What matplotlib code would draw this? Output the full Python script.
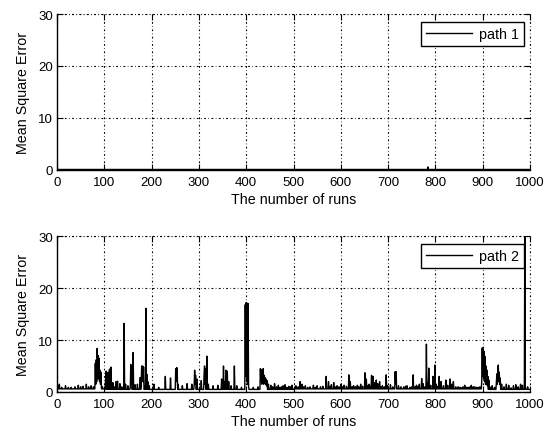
import numpy as np
import matplotlib
matplotlib.use("Agg")
import matplotlib.pyplot as plt

plt.rcParams['font.family'] = ['Liberation Sans', 'DejaVu Sans']

# ---------------- data ----------------
n_runs = 1000
x_ticks = [0, 100, 200, 300, 400, 500, 600, 700, 800, 900, 1000]
y_ticks = [0, 10, 20, 30]

# path 1: flat, near zero, one tiny bump
path1_block_levels = [0.1] * 20            # level per 50-run block
path1_spikes_runs = [784]
path1_spikes_vals = [0.6]

# path 2: low baseline with many spikes
path2_block_levels = [0.6, 0.6, 0.5, 0.5, 0.5, 0.5, 0.5, 0.5, 0.5, 0.5,
                      0.6, 0.6, 0.6, 0.6, 0.6, 0.6, 0.6, 0.6, 0.5, 0.5]
path2_spikes_runs = [
    3, 5, 10, 18, 24, 30, 38, 45, 50, 55, 62, 67, 72, 77,
    81, 82, 83, 84, 85, 86, 87, 88, 89, 90, 91, 92, 93, 96,
    103, 104, 106, 108, 110, 111, 113, 114, 118, 122, 125, 128, 133, 137,
    142, 145, 150, 155, 156, 157, 158, 160, 161, 165, 170, 175, 176, 178, 179, 180,
    181, 182, 183, 186, 188, 190, 192, 195,
    205, 215, 229, 240, 251, 252, 253, 254, 256, 265, 275, 285, 290, 291, 292, 293,
    296, 305, 311, 312, 313, 314, 316, 317, 320, 330, 340, 348, 352, 355, 357, 359,
    360, 363, 368, 375, 380, 390,
    398, 399, 400, 401, 402, 403, 404, 405,
    415, 425, 430, 431, 432, 433, 434, 435, 436, 437, 438, 439, 440, 441, 442, 443,
    444, 447, 452, 456, 460, 464, 468, 472, 475, 478, 482, 486, 490, 494, 497,
    505, 510, 514, 518, 521, 525, 530, 535, 542, 546, 550, 557, 562, 569, 574, 577,
    580, 585, 588, 592, 596, 600, 604, 607, 612, 617, 620, 624, 627, 631, 635, 638,
    642, 646, 651, 654, 657, 660, 663, 665, 668, 671, 675, 678, 682, 685, 688, 692,
    696, 699, 705, 710, 715, 716, 717, 722, 727, 733, 737, 740, 746, 750, 753, 757,
    760, 763, 766, 771, 774, 778, 781, 783, 786, 790, 795, 799, 802, 805, 808, 812,
    817, 822, 826, 831, 834, 838, 843, 848, 852, 855, 858, 862, 866, 869, 873, 876,
    880, 883, 887, 890, 894,
    898, 899, 900, 901, 902, 903, 904, 905, 906, 907, 908, 909, 910, 911, 913, 915,
    920, 925, 929, 930, 931, 932, 933, 934, 935, 936, 937, 940, 945, 950, 955, 960,
    965, 970, 975, 980, 984, 989, 990, 995]
path2_spikes_vals = [
    1.2, 1.5, 0.9, 1.2, 0.9, 0.9, 1.0, 1.3, 1.0, 1.1, 1.5, 1.0, 1.2, 1.0,
    5.5, 1.5, 6.2, 2.0, 8.4, 3.0, 7.0, 2.5, 6.5, 2.0, 4.2, 1.5, 3.8, 1.0,
    3.5, 4.0, 1.2, 3.8, 1.5, 4.4, 1.3, 4.8, 1.8, 1.0, 2.0, 2.1, 1.6, 1.0,
    13.2, 1.5, 1.2, 1.0, 5.3, 1.5, 5.0, 2.0, 7.6, 1.4, 1.5, 1.0, 2.8, 1.5, 5.0, 2.0,
    5.0, 2.0, 4.8, 1.2, 16.1, 3.4, 2.0, 1.2,
    1.5, 0.9, 3.0, 2.7, 4.5, 2.0, 4.7, 4.6, 1.5, 1.2, 1.6, 1.5, 1.2, 4.2, 1.5, 3.2,
    2.5, 2.2, 3.5, 5.0, 1.5, 4.5, 1.5, 6.9, 1.5, 1.2, 1.3, 2.5, 5.0, 2.0, 4.2, 1.5,
    4.0, 2.0, 1.2, 5.0, 1.2, 0.9,
    16.8, 3.0, 17.2, 2.0, 17.1, 1.5, 17.0, 1.0,
    0.9, 1.0, 4.5, 2.0, 4.3, 1.5, 3.0, 2.0, 4.5, 1.5, 3.2, 1.8, 2.8, 1.5, 2.5, 1.2,
    2.2, 1.5, 1.3, 1.0, 1.6, 1.0, 1.3, 0.9, 1.0, 1.2, 1.4, 0.9, 1.1, 1.0, 1.3,
    1.2, 1.0, 2.0, 1.5, 1.0, 1.2, 0.9, 1.0, 1.3, 0.9, 1.2, 1.0, 1.1, 3.0, 2.0, 1.0,
    1.4, 1.8, 1.0, 1.2, 1.0, 1.5, 1.0, 1.3, 1.1, 3.3, 2.0, 1.0, 1.2, 1.0, 1.3, 1.0,
    1.5, 1.1, 3.7, 2.5, 1.2, 1.5, 1.1, 3.2, 3.0, 1.8, 2.3, 1.6, 2.0, 1.0, 1.2, 1.0,
    3.3, 1.2, 1.4, 1.0, 3.9, 1.5, 3.9, 1.2, 1.0, 1.0, 1.1, 1.2, 0.9, 1.0, 3.3, 1.0,
    1.3, 1.0, 1.5, 2.6, 1.6, 1.0, 9.2, 1.8, 4.6, 1.3, 3.0, 5.2, 1.5, 1.0, 3.0, 2.0,
    1.2, 2.3, 1.3, 2.5, 1.5, 2.0, 1.0, 1.0, 0.9, 0.8, 1.0, 1.3, 0.9, 0.9, 1.0, 1.3,
    1.0, 1.0, 0.9, 0.9, 1.0,
    2.0, 8.5, 3.0, 8.3, 2.5, 7.8, 2.0, 6.8, 1.5, 5.0, 1.5, 4.2, 1.2, 3.0, 2.3, 1.0,
    1.2, 0.9, 2.0, 3.5, 1.5, 4.5, 5.2, 2.0, 3.8, 1.5, 2.7, 1.5, 1.0, 1.5, 1.3, 0.8,
    1.2, 1.4, 1.0, 1.5, 1.3, 30.0, 1.0, 1.0]

legend_labels = ["path 1", "path 2"]
x_label = "The number of runs"
y_label = "Mean Square Error"


def build_series(levels, spike_runs, spike_vals):
    y = np.repeat(np.asarray(levels, dtype=float), n_runs // len(levels))
    for r, v in zip(spike_runs, spike_vals):
        y[r - 1] = v
    return y


runs = np.arange(1, n_runs + 1)
path1 = build_series(path1_block_levels, path1_spikes_runs, path1_spikes_vals)
path2 = build_series(path2_block_levels, path2_spikes_runs, path2_spikes_vals)

# ---------------- figure ----------------
W, H = 552, 431
fig = plt.figure(figsize=(W / 100, H / 100), dpi=100)

left = 57 / W
width = (530 - 57) / W
ax1 = fig.add_axes([left, 1 - 171 / H, width, 156 / H])
ax2 = fig.add_axes([left, 1 - 393 / H, width, 156 / H])

grid_ls = (0, (1.6, 2.2, 0.6, 2.2))

for ax, y, lab in [(ax1, path1, legend_labels[0]), (ax2, path2, legend_labels[1])]:
    ax.plot(runs, y, color='black', linewidth=1.0, label=lab, clip_on=True)
    ax.set_xlim(0, 1000)
    ax.set_ylim(0, 30)
    ax.set_xticks(x_ticks)
    ax.set_yticks(y_ticks)
    ax.tick_params(axis='both', which='major', direction='in', length=4,
                   width=0.8, top=True, right=True, labelsize=9.5, color='black')
    ax.tick_params(axis='x', pad=4)
    ax.tick_params(axis='y', pad=3)
    for s in ['top', 'right']:
        ax.spines[s].set_visible(False)
    for s in ['left', 'bottom']:
        ax.spines[s].set_linewidth(1.0)
    ax.grid(True, color='black', linestyle=grid_ls, linewidth=0.8)
    ax.axhline(30, color='black', linestyle=grid_ls, linewidth=0.8, clip_on=False)
    ax.axvline(1000, color='black', linestyle=grid_ls, linewidth=0.8, clip_on=False)
    ax.set_xlabel(x_label, fontsize=10.3, labelpad=3)
    ax.set_ylabel(y_label, fontsize=10.3, labelpad=6)
    leg = ax.legend(loc='upper right', bbox_to_anchor=(0.987, 0.951),
                    fontsize=10.3, handlelength=3.2, handletextpad=0.5,
                    borderpad=0.35, borderaxespad=0, fancybox=False,
                    framealpha=1, edgecolor='black')
    leg.get_frame().set_linewidth(1.0)

fig.savefig("out.png", dpi=100)
